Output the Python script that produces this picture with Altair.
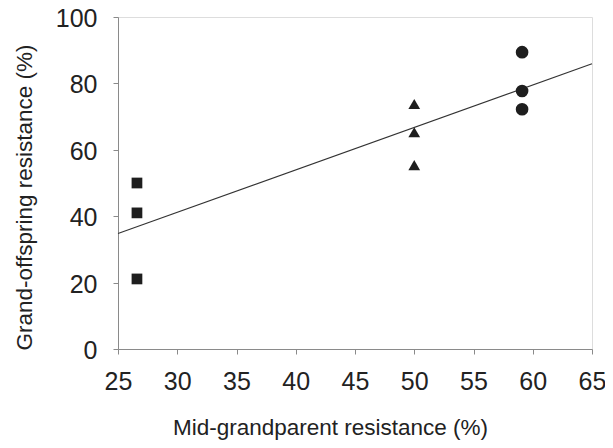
import altair as alt
import pandas as pd

# Data
mid_grandparent = [26.6, 26.6, 26.6, 50.0, 50.0, 50.0, 59.1, 59.1, 59.1]
grand_offspring = [50.0, 41.0, 21.1, 73.8, 65.3, 55.4, 89.4, 77.7, 72.2]
group = ["low", "low", "low", "mid", "mid", "mid", "high", "high", "high"]
group_order = ["low", "mid", "high"]
group_shapes = ["square", "triangle-up", "circle"]

df = pd.DataFrame({"x": mid_grandparent, "y": grand_offspring, "g": group})

FONT = "Liberation Sans"
AXIS_GRAY = "#8a8a8a"

x_enc = alt.X(
    "x:Q",
    scale=alt.Scale(domain=[25, 65], nice=False, zero=False),
    axis=alt.Axis(
        title="Mid-grandparent resistance (%)",
        values=list(range(25, 70, 5)),
        grid=False,
        domainColor=AXIS_GRAY,
        tickColor=AXIS_GRAY,
        tickSize=5,
        labelFlush=False,
        labelFont=FONT,
        labelFontSize=25,
        labelColor="#222222",
        labelPadding=15,
        titleFont=FONT,
        titleFontSize=22.5,
        titleFontWeight="normal",
        titleColor="#222222",
        titlePadding=22,
        titleX=212,
    ),
)
y_enc = alt.Y(
    "y:Q",
    scale=alt.Scale(domain=[0, 100], nice=False),
    axis=alt.Axis(
        title="Grand-offspring resistance (%)",
        values=list(range(0, 120, 20)),
        grid=False,
        domainColor=AXIS_GRAY,
        tickColor=AXIS_GRAY,
        tickSize=5,
        labelFlush=False,
        labelOffset=1.5,
        labelFont=FONT,
        labelFontSize=25,
        labelColor="#222222",
        labelPadding=16,
        titleFont=FONT,
        titleFontSize=22.5,
        titleFontWeight="normal",
        titleColor="#222222",
        titlePadding=19,
        titleY=180,
    ),
)

points = alt.Chart(df).mark_point(filled=True, opacity=1, color="#1e1e1e").encode(
    x=x_enc,
    y=y_enc,
    shape=alt.Shape("g:N", scale=alt.Scale(domain=group_order, range=group_shapes), legend=None),
    size=alt.Size("g:N", scale=alt.Scale(domain=group_order, range=[115, 160, 144]), legend=None),
)

line = alt.Chart(df).transform_regression(
    "x", "y", extent=[25, 65]
).mark_line(color="#333333", strokeWidth=1.1).encode(
    x="x:Q", y="y:Q"
)

chart = alt.layer(line, points).properties(
    width=474,
    height=332,
    autosize=alt.AutoSizeParams(type="none"),
    padding={"left": 110, "top": 9, "right": 13, "bottom": 91},
).configure_view(stroke=AXIS_GRAY, strokeWidth=1).configure(background="white")

chart.save("out.html", embed_options={"renderer": "svg", "actions": False})
